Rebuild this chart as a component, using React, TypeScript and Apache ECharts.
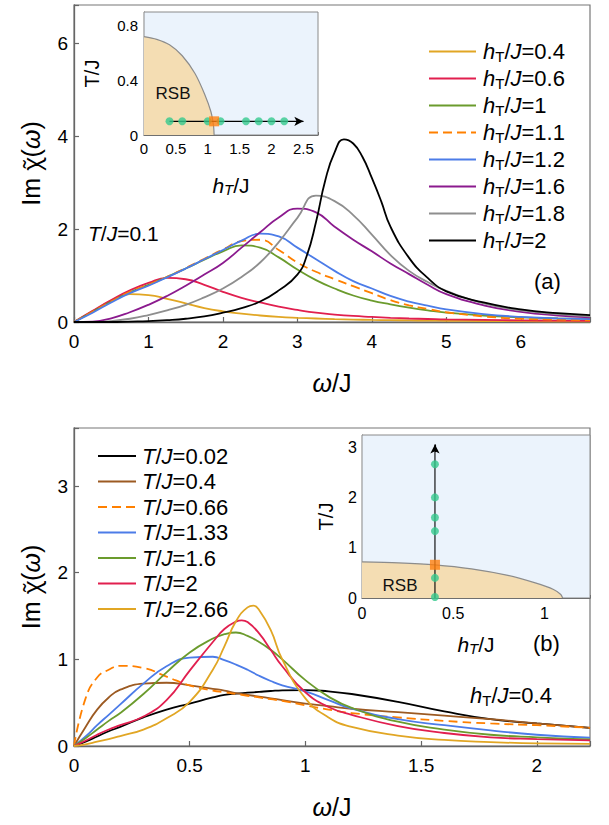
import React, { useEffect, useRef } from 'react';
import * as echarts from 'echarts';

const FONT = '"Liberation Sans", Arial, Helvetica, sans-serif';
const CHI_FONT = '"Noto Sans", "DejaVu Sans", sans-serif';

// ---------- Panel (a): T/J = 0.1 ----------
const omegaA = [0, 0.25, 0.5, 0.75, 1, 1.25, 1.5, 1.75, 2, 2.25, 2.5, 2.75, 3, 3.25, 3.5, 3.75, 4, 4.25, 4.5, 4.75, 5, 5.5, 6, 6.5, 6.93];
// the sharp hT/J=2 resonance is read on a finer grid
const omegaA_h2 = [0, 0.25, 0.5, 0.75, 1, 1.25, 1.5, 1.75, 2, 2.25, 2.5, 2.75, 3, 3.125, 3.25, 3.375, 3.5, 3.625, 3.75, 3.875, 4, 4.125, 4.25, 4.5, 4.75, 5, 5.5, 6, 6.5, 6.93];
const hLabelsA = ['0.4', '0.6', '1', '1.1', '1.2', '1.6', '1.8', '2'];
const imA_h04 = [0, 0.23, 0.46, 0.6, 0.58, 0.5, 0.4, 0.3, 0.23, 0.18, 0.14, 0.11, 0.09, 0.075, 0.062, 0.052, 0.045, 0.04, 0.035, 0.03, 0.027, 0.022, 0.018, 0.015, 0.013];
const imA_h06 = [0, 0.24, 0.47, 0.68, 0.84, 0.95, 0.92, 0.8, 0.65, 0.52, 0.42, 0.33, 0.26, 0.2, 0.16, 0.13, 0.11, 0.09, 0.075, 0.065, 0.055, 0.045, 0.035, 0.03, 0.025];
const imA_h1 = [0, 0.22, 0.44, 0.64, 0.8, 0.97, 1.15, 1.34, 1.52, 1.65, 1.6, 1.39, 1.13, 0.9, 0.72, 0.57, 0.46, 0.38, 0.31, 0.25, 0.2, 0.14, 0.1, 0.08, 0.07];
const imA_h11 = [0, 0.22, 0.44, 0.65, 0.8, 0.97, 1.16, 1.36, 1.56, 1.74, 1.77, 1.55, 1.28, 1.08, 0.92, 0.77, 0.62, 0.47, 0.36, 0.28, 0.21, 0.12, 0.07, 0.05, 0.04];
const imA_h12 = [0, 0.2, 0.42, 0.62, 0.78, 0.96, 1.15, 1.35, 1.55, 1.75, 1.9, 1.84, 1.6, 1.35, 1.1, 0.88, 0.72, 0.56, 0.44, 0.35, 0.27, 0.17, 0.11, 0.08, 0.06];
const imA_h16 = [0, 0.01, 0.08, 0.21, 0.37, 0.56, 0.78, 1.02, 1.27, 1.6, 1.93, 2.25, 2.44, 2.36, 2.05, 1.77, 1.52, 1.26, 1.03, 0.8, 0.6, 0.36, 0.22, 0.14, 0.1];
const imA_h18 = [0, 0, 0.02, 0.07, 0.15, 0.25, 0.37, 0.53, 0.72, 0.97, 1.28, 1.72, 2.24, 2.72, 2.6, 2.3, 1.88, 1.44, 1.1, 0.86, 0.67, 0.4, 0.25, 0.17, 0.12];
const imA_h2 = [0, 0, 0, 0.01, 0.02, 0.04, 0.07, 0.12, 0.2, 0.3, 0.44, 0.68, 1.02, 1.42, 2.15, 3.05, 3.65, 3.93, 3.84, 3.55, 3.1, 2.6, 2.05, 1.38, 0.95, 0.66, 0.42, 0.27, 0.19, 0.15];
const valuesA = [imA_h04, imA_h06, imA_h1, imA_h11, imA_h12, imA_h16, imA_h18, imA_h2];
const omegasA = [omegaA, omegaA, omegaA, omegaA, omegaA, omegaA, omegaA, omegaA_h2];
const colorsA = ['#E1A624', '#E11F4F', '#6B9B2D', '#FF8000', '#4C7CE8', '#8B1A8E', '#8E8E8E', '#000000'];

// ---------- Panel (b): hT/J = 0.4 ----------
const omegaB = [0, 0.05, 0.1, 0.15, 0.2, 0.3, 0.4, 0.5, 0.6, 0.65, 0.7, 0.75, 0.8, 0.85, 0.9, 1.0, 1.1, 1.2, 1.4, 1.6, 1.8, 2.0, 2.23];
// the two narrow peaks (T/J=2 and 2.66) are read with one extra point at their maximum
const omegaB_t2 = [0, 0.05, 0.1, 0.15, 0.2, 0.3, 0.4, 0.5, 0.6, 0.65, 0.7, 0.725, 0.75, 0.8, 0.85, 0.9, 1.0, 1.1, 1.2, 1.4, 1.6, 1.8, 2.0, 2.23];
const omegaB_t266 = [0, 0.05, 0.1, 0.15, 0.2, 0.3, 0.4, 0.5, 0.6, 0.65, 0.7, 0.75, 0.775, 0.8, 0.85, 0.9, 1.0, 1.1, 1.2, 1.4, 1.6, 1.8, 2.0, 2.23];
const tLabelsB = ['0.02', '0.4', '0.66', '1.33', '1.6', '2', '2.66'];
const imB_t002 = [0, 0.05, 0.11, 0.17, 0.22, 0.33, 0.42, 0.49, 0.56, 0.59, 0.605, 0.615, 0.625, 0.635, 0.643, 0.646, 0.63, 0.6, 0.51, 0.4, 0.31, 0.26, 0.21];
const imB_t04 = [0, 0.22, 0.42, 0.56, 0.65, 0.72, 0.73, 0.7, 0.66, 0.64, 0.61, 0.59, 0.57, 0.55, 0.53, 0.49, 0.46, 0.43, 0.39, 0.35, 0.31, 0.26, 0.21];
const imB_t066 = [0, 0.55, 0.79, 0.88, 0.925, 0.9, 0.8, 0.7, 0.64, 0.62, 0.6, 0.58, 0.56, 0.54, 0.52, 0.47, 0.42, 0.38, 0.33, 0.29, 0.26, 0.24, 0.21];
const imB_t133 = [0, 0.11, 0.24, 0.36, 0.48, 0.72, 0.92, 1.02, 1.03, 0.99, 0.94, 0.88, 0.81, 0.75, 0.7, 0.63, 0.53, 0.43, 0.31, 0.24, 0.18, 0.13, 0.095];
const imB_t16 = [0, 0.09, 0.19, 0.29, 0.38, 0.6, 0.85, 1.08, 1.24, 1.29, 1.31, 1.27, 1.2, 1.11, 1.0, 0.76, 0.57, 0.44, 0.28, 0.19, 0.13, 0.1, 0.075];
const imB_t2 = [0, 0.06, 0.13, 0.19, 0.24, 0.34, 0.53, 0.87, 1.2, 1.35, 1.435, 1.45, 1.43, 1.3, 1.11, 0.92, 0.62, 0.45, 0.36, 0.23, 0.15, 0.1, 0.08, 0.065];
const imB_t266 = [0, 0.02, 0.05, 0.08, 0.115, 0.19, 0.32, 0.51, 0.88, 1.15, 1.44, 1.6, 1.62, 1.57, 1.34, 1.0, 0.55, 0.33, 0.22, 0.12, 0.07, 0.045, 0.03, 0.025];
const valuesB = [imB_t002, imB_t04, imB_t066, imB_t133, imB_t16, imB_t2, imB_t266];
const omegasB = [omegaB, omegaB, omegaB, omegaB, omegaB, omegaB_t2, omegaB_t266];
const colorsB = ['#000000', '#9C5A22', '#FF8000', '#4C7CE8', '#6B9B2D', '#E11F4F', '#E1A624'];

// ---------- Insets: phase diagram ----------
const boundaryH = [0, 0.2, 0.4, 0.6, 0.8, 0.95, 1.05, 1.09, 1.1];
const boundaryT = [0.72, 0.7, 0.66, 0.58, 0.45, 0.3, 0.17, 0.07, 0];
const insetA_T = 0.1;
const insetA_h = [0.4, 0.6, 1, 1.2, 1.6, 1.8, 2, 2.2];
const insetA_hCrit = 1.1;
const insetA_arrow = [0.4, 2.5];
const insetB_h = 0.4;
const insetB_T = [0.02, 0.4, 1.33, 1.6, 2, 2.66];
const insetB_TCrit = 0.66;
const insetB_arrow = [0, 3.05];

const GREEN = '#35C98D';
const ORANGE = '#FF7F0E';
const TAN = '#F4DDB3';
const SKY = '#EBF3FC';
const AXIS = '#666666';

const pairs = (xs: number[], ys: number[]) => xs.map((x, i) => [x, ys[i]]);
const isMult = (v: number, step: number) => Math.abs(v / step - Math.round(v / step)) < 1e-6;
const fmt = (step: number) => (v: number) => (isMult(v, step) ? String(Math.round(v * 100) / 100) : '');

function richSet(size: number, lh: number, subSize: number, subPad: number, lead: number) {
  return {
    f: { fontSize: size, fontStyle: 'italic', fontFamily: FONT, color: '#000', lineHeight: lh, padding: [0, 0, 0, lead] },
    i: { fontSize: size, fontStyle: 'italic', fontFamily: FONT, color: '#000', lineHeight: lh },
    n: { fontSize: size, fontFamily: FONT, color: '#000', lineHeight: lh },
    s: { fontSize: subSize, fontFamily: FONT, color: '#000', lineHeight: lh, padding: [subPad, 0, 0, 0] },
  };
}

export default function App() {
  const ref = useRef<HTMLDivElement>(null);
  useEffect(() => {
    if (!ref.current) return;
    const chart = echarts.init(ref.current, null, { renderer: 'svg' });

    const mainAxisCommon = {
      axisLine: { show: true, lineStyle: { color: AXIS, width: 1.3 } },
      axisTick: { show: true, inside: true, length: 5, lineStyle: { color: AXIS, width: 1.2 } },
      splitLine: { show: false },
      nameLocation: 'middle' as const,
    };
    const insetAxisCommon = {
      axisLine: { show: true, lineStyle: { color: '#555', width: 1.1 } },
      axisTick: { show: true, inside: true, length: 3, lineStyle: { color: '#555', width: 1 } },
      splitLine: { show: false },
      nameLocation: 'middle' as const,
    };
    const bigName = {
      n: { fontSize: 25, fontFamily: FONT, color: '#000' },
      c: { fontSize: 23, fontFamily: CHI_FONT, color: '#000' },
      i: { fontSize: 25, fontFamily: FONT, fontStyle: 'italic', color: '#000' },
    };
    const insetName = (sz: number) => ({
      n: { fontSize: sz, fontFamily: FONT, color: '#000' },
      i: { fontSize: sz, fontFamily: FONT, fontStyle: 'italic', color: '#000' },
      si: { fontSize: Math.round(sz * 0.7), fontFamily: FONT, fontStyle: 'italic', color: '#000', padding: [9, 0, 0, 0] },
    });

    const lineCommon = { type: 'line', smooth: 0.5, symbol: 'none', z: 3 };
    const seriesA = hLabelsA.map((lab, k) => ({
      ...lineCommon,
      name: 'hT/J=' + lab,
      xAxisIndex: 0,
      yAxisIndex: 0,
      data: pairs(omegasA[k], valuesA[k]),
      lineStyle: { color: colorsA[k], width: 1.8, type: lab === '1.1' ? [9, 5] : 'solid' },
      itemStyle: { color: colorsA[k] },
    }));
    const seriesB = tLabelsB.map((lab, k) => ({
      ...lineCommon,
      name: 'T/J=' + lab,
      xAxisIndex: 2,
      yAxisIndex: 2,
      data: pairs(omegasB[k], valuesB[k]),
      lineStyle: { color: colorsB[k], width: 1.8, type: lab === '0.66' ? [9, 5] : 'solid' },
      itemStyle: { color: colorsB[k] },
    }));

    const insetSeries = [
      {
        type: 'line', xAxisIndex: 1, yAxisIndex: 1, data: pairs(boundaryH, boundaryT), smooth: 0.3, symbol: 'none',
        lineStyle: { color: '#8c8c8c', width: 1.2 }, areaStyle: { color: TAN, opacity: 1 }, z: 2, silent: true,
      },
      {
        type: 'line', xAxisIndex: 1, yAxisIndex: 1, data: [[insetA_arrow[0], insetA_T], [insetA_arrow[1], insetA_T]], symbol: 'none',
        lineStyle: { color: '#000', width: 1.1 }, z: 3, silent: true,
        markLine: {
          silent: true, symbol: ['none', 'arrow'], symbolSize: [7, 9], label: { show: false },
          lineStyle: { color: '#000', width: 1.1, type: 'solid' },
          data: [[{ coord: [insetA_arrow[1] - 0.1, insetA_T] }, { coord: [insetA_arrow[1], insetA_T] }]],
        },
      },
      {
        type: 'scatter', xAxisIndex: 1, yAxisIndex: 1, data: insetA_h.map((h) => [h, insetA_T]), symbol: 'circle', symbolSize: 8,
        itemStyle: { color: GREEN }, z: 5, silent: true,
      },
      {
        type: 'scatter', xAxisIndex: 1, yAxisIndex: 1, data: [[insetA_hCrit, insetA_T]], symbol: 'rect', symbolSize: 10,
        itemStyle: { color: ORANGE }, z: 6, silent: true,
      },
      {
        type: 'line', xAxisIndex: 3, yAxisIndex: 3, data: pairs(boundaryH, boundaryT), smooth: 0.3, symbol: 'none',
        lineStyle: { color: '#8c8c8c', width: 1.2 }, areaStyle: { color: TAN, opacity: 1 }, z: 2, silent: true,
      },
      {
        type: 'line', xAxisIndex: 3, yAxisIndex: 3, data: [[insetB_h, insetB_arrow[0]], [insetB_h, insetB_arrow[1]]], symbol: 'none',
        lineStyle: { color: '#000', width: 1.1 }, z: 3, silent: true,
        markLine: {
          silent: true, symbol: ['none', 'arrow'], symbolSize: [7, 9], label: { show: false },
          lineStyle: { color: '#000', width: 1.1, type: 'solid' },
          data: [[{ coord: [insetB_h, insetB_arrow[1] - 0.15] }, { coord: [insetB_h, insetB_arrow[1]] }]],
        },
      },
      {
        type: 'scatter', xAxisIndex: 3, yAxisIndex: 3, data: insetB_T.map((t) => [insetB_h, t]), symbol: 'circle', symbolSize: 8,
        itemStyle: { color: GREEN }, z: 5, silent: true,
      },
      {
        type: 'scatter', xAxisIndex: 3, yAxisIndex: 3, data: [[insetB_h, insetB_TCrit]], symbol: 'rect', symbolSize: 10,
        itemStyle: { color: ORANGE }, z: 6, silent: true,
      },
    ];

    const option = {
      animation: false,
      backgroundColor: '#ffffff',
      textStyle: { fontFamily: FONT },
      grid: [
        { left: 74, top: 5, width: 516, height: 317, show: true, borderColor: '#777', borderWidth: 1.2, backgroundColor: 'transparent' },
        { left: 144, top: 12, width: 174, height: 123, show: true, borderColor: '#8a8a8a', borderWidth: 1, backgroundColor: SKY, z: 1 },
        { left: 74, top: 428, width: 516, height: 318, show: true, borderColor: '#777', borderWidth: 1.2, backgroundColor: 'transparent' },
        { left: 362, top: 435, width: 228, height: 163, show: true, borderColor: '#8a8a8a', borderWidth: 1, backgroundColor: SKY, z: 1 },
      ],
      xAxis: [
        {
          ...mainAxisCommon, type: 'value', gridIndex: 0, min: 0, max: 6.93, interval: 1,
          axisLabel: { fontSize: 19, color: '#000', margin: 10, formatter: fmt(1) },
          name: '{i|ω}{n|/J}', nameGap: 48, nameTextStyle: { rich: bigName },
        },
        {
          ...insetAxisCommon, type: 'value', gridIndex: 1, min: 0, max: 2.73, interval: 0.5,
          axisLabel: { fontSize: 15, color: '#000', margin: 6, formatter: fmt(0.5) },
          name: '{i|h}{si|T}{n|/J}', nameGap: 38, nameTextStyle: { rich: insetName(21) },
        },
        {
          ...mainAxisCommon, type: 'value', gridIndex: 2, min: 0, max: 2.23, interval: 0.5,
          axisLabel: { fontSize: 19, color: '#000', margin: 10, formatter: fmt(0.5) },
          name: '{i|ω}{n|/J}', nameGap: 48, nameTextStyle: { rich: bigName },
        },
        {
          ...insetAxisCommon, type: 'value', gridIndex: 3, min: 0, max: 1.25, interval: 0.5,
          axisLabel: { fontSize: 16, color: '#000', margin: 7, formatter: fmt(0.5) },
          name: '{i|h}{si|T}{n|/J}', nameGap: 34, nameTextStyle: { rich: insetName(21) },
        },
      ],
      yAxis: [
        {
          ...mainAxisCommon, type: 'value', gridIndex: 0, min: 0, max: 6.82, interval: 2,
          axisLabel: { fontSize: 19, color: '#000', margin: 6, formatter: fmt(2) },
          name: '{n|Im }{c|χ̃}{n|(}{i|ω}{n|)}', nameGap: 31, nameTextStyle: { rich: bigName },
        },
        {
          ...insetAxisCommon, type: 'value', gridIndex: 1, min: 0, max: 0.9, interval: 0.4,
          axisLabel: { fontSize: 15, color: '#000', margin: 6, formatter: fmt(0.4) },
          name: 'T/J', nameGap: 42, nameTextStyle: { fontSize: 20, fontFamily: FONT, color: '#000' },
        },
        {
          ...mainAxisCommon, type: 'value', gridIndex: 2, min: 0, max: 3.67, interval: 1,
          axisLabel: { fontSize: 19, color: '#000', margin: 6, formatter: fmt(1) },
          name: '{n|Im }{c|χ̃}{n|(}{i|ω}{n|)}', nameGap: 31, nameTextStyle: { rich: bigName },
        },
        {
          ...insetAxisCommon, type: 'value', gridIndex: 3, min: 0, max: 3.24, interval: 1,
          axisLabel: { fontSize: 16, color: '#000', margin: 5, formatter: fmt(1) },
          name: 'T/J', nameGap: 26, nameTextStyle: { fontSize: 20, fontFamily: FONT, color: '#000' },
        },
      ],
      legend: [
        {
          orient: 'vertical', left: 423, top: 34, itemWidth: 47, itemHeight: 12, itemGap: 2, selectedMode: false,
          itemStyle: { opacity: 0 },
          data: hLabelsA.map((l) => 'hT/J=' + l),
          formatter: (name: string) => `{f|h}{s|T}{n|/}{i|J}{n|=${name.split('=')[1]}}`,
          textStyle: { rich: richSet(22, 28, 15, 10, 2) },
        },
        {
          orient: 'vertical', left: 92, top: 440, itemWidth: 38, itemHeight: 12, itemGap: 3.5, selectedMode: false,
          itemStyle: { opacity: 0 },
          data: tLabelsB.map((l) => 'T/J=' + l),
          formatter: (name: string) => `{f|T}{n|/}{i|J}{n|=${name.split('=')[1]}}`,
          textStyle: { rich: richSet(22, 26, 15, 10, 1) },
        },
      ],
      graphic: [
        {
          type: 'text', x: 88, y: 233, z: 10,
          style: { text: '{i|T}{n|/}{i|J}{n|=0.1}', verticalAlign: 'middle', align: 'left', rich: richSet(21, 26, 15, 10, 0) },
        },
        {
          type: 'text', x: 534, y: 281, z: 10,
          style: { text: '(a)', fontSize: 22, fontFamily: FONT, fill: '#000', verticalAlign: 'middle', align: 'left' },
        },
        {
          type: 'text', x: 533, y: 643, z: 10,
          style: { text: '(b)', fontSize: 22, fontFamily: FONT, fill: '#000', verticalAlign: 'middle', align: 'left' },
        },
        {
          type: 'text', x: 470, y: 695, z: 10,
          style: { text: '{i|h}{s|T}{n|/}{i|J}{n|=0.4}', verticalAlign: 'middle', align: 'left', rich: richSet(22, 28, 15, 10, 0) },
        },
        {
          type: 'text', x: 173, y: 93, z: 10,
          style: { text: 'RSB', fontSize: 17, fontFamily: FONT, fill: '#111', verticalAlign: 'middle', align: 'center' },
        },
        {
          type: 'text', x: 400, y: 585, z: 10,
          style: { text: 'RSB', fontSize: 17, fontFamily: FONT, fill: '#111', verticalAlign: 'middle', align: 'center' },
        },
      ],
      series: [...seriesA, ...seriesB, ...insetSeries],
    };

    chart.setOption(option as any);
    return () => chart.dispose();
  }, []);

  return (
    <div
      ref={ref}
      style={{ position: 'fixed', left: 0, top: 0, width: 609, height: 825, background: '#fff' }}
    />
  );
}
